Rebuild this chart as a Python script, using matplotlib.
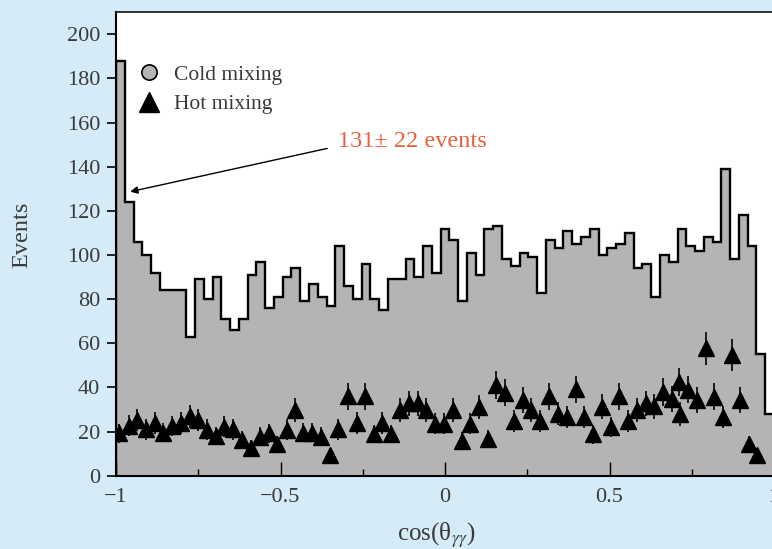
"""cos(theta_gg) distribution: cold-mixing histogram with hot-mixing points."""
import numpy as np
import matplotlib
matplotlib.use("Agg")
import matplotlib.pyplot as plt
from matplotlib.lines import Line2D
from matplotlib.ticker import MultipleLocator, FuncFormatter

# ---- data ------------------------------------------------------------------
N_BINS = 75
X_LO, X_HI = -1.0, 1.0

cold_counts = [188, 124, 106, 100, 92, 84, 84, 84, 63, 89, 80, 90, 71, 66, 71,
               91, 97, 76, 81, 90, 94, 79, 87, 81, 77, 104, 86, 80, 96, 80,
               75, 89, 89, 98, 90, 104, 92, 112, 107, 79, 101, 91, 112, 113, 98,
               95, 101, 99, 83, 107, 103, 111, 105, 108, 112, 100, 103, 105, 110, 94,
               96, 81, 100, 97, 112, 104, 102, 108, 106, 139, 98, 118, 104, 55, 28]

hot_x = [-0.990, -0.960, -0.935, -0.910, -0.881, -0.856, -0.829, -0.802, -0.775,
         -0.750, -0.724, -0.696, -0.671, -0.643, -0.616, -0.590, -0.562, -0.535,
         -0.510, -0.481, -0.456, -0.431, -0.403, -0.378, -0.350, -0.324,
         -0.296, -0.268, -0.243, -0.216, -0.191, -0.164, -0.137, -0.109, -0.083,
         -0.058, -0.030, -0.003, 0.023, 0.051, 0.076, 0.103, 0.130, 0.155, 0.182,
         0.209, 0.236, 0.262, 0.290, 0.316, 0.343,
         0.370, 0.397, 0.423, 0.451, 0.476, 0.504, 0.530, 0.557, 0.584, 0.610,
         0.636, 0.664, 0.689, 0.711, 0.714, 0.738, 0.765, 0.792, 0.818, 0.844,
         0.871, 0.898, 0.925, 0.949]
hot_y = [19.2, 22.7, 25.2, 21.0, 23.9, 19.5, 22.5, 23.9, 27.0, 25.4, 20.9, 18.0,
         22.2, 21.0, 16.2, 12.7, 17.7, 19.2, 14.4, 20.9, 29.6, 19.5, 19.5, 17.7,
         9.4, 21.0,
         36.0, 23.9, 36.0, 18.9, 23.9, 18.9, 29.6, 32.9, 32.9, 29.6, 23.6, 23.6,
         29.6, 15.7, 23.6, 31.1, 16.8, 41.0, 37.6, 24.8, 34.4, 29.8, 24.8, 36.0,
         28.1,
         26.5, 39.1, 26.5, 18.7, 31.3, 22.1, 36.0, 24.9, 29.6, 32.8, 31.4, 37.9,
         34.9, 42.5, 28.0, 39.0, 34.4, 57.7, 35.8, 26.5, 54.7, 34.3, 14.4, 9.4]
hot_err = [4.4, 4.8, 5.0, 4.6, 4.9, 4.4, 4.7, 4.9, 5.2, 5.0, 4.6, 4.2, 4.7, 4.6,
           4.0, 3.6, 4.2, 4.4, 3.8, 4.6, 5.4, 4.4, 4.4, 4.2, 3.1, 4.6,
           6.0, 4.9, 6.0, 4.3, 4.9, 4.3, 5.4, 5.7, 5.7, 5.4, 4.9, 4.9, 5.4, 4.0,
           4.9, 5.6, 4.1, 6.4, 6.1, 5.0, 5.9, 5.5, 5.0, 6.0, 5.3,
           5.1, 6.3, 5.1, 4.3, 5.6, 4.7, 6.0, 5.0, 5.4, 5.7, 5.6, 6.2, 5.9, 6.5,
           5.4, 6.2, 5.9, 7.6, 6.0, 5.1, 7.4, 5.9, 3.8, 3.1]

peak_label = "131\u00b1 22 events"
peak_tip = (-0.957, 128.7)
peak_text = (-0.325, 151.3)

# ---- style -----------------------------------------------------------------
BG = "#d5ebf8"
FILL = "#b4b4b4"
TXT = "#3a3a3a"
ORANGE = "#e8613f"

plt.rcParams["font.family"] = ["Liberation Serif", "DejaVu Serif"]
plt.rcParams["mathtext.fontset"] = "stix"
plt.rcParams["axes.unicode_minus"] = True


def main(outfile="out.png"):
    fig = plt.figure(figsize=(7.72, 5.49), dpi=100, facecolor=BG)
    ax = fig.add_axes([0.1503, 0.1335, 0.8523, 0.8441])
    ax.set_facecolor("white")

    edges = np.linspace(X_LO, X_HI, N_BINS + 1)
    ax.stairs(cold_counts, edges, baseline=0, fill=True, color=FILL, lw=0, zorder=1)
    ax.stairs(cold_counts, edges, baseline=0, fill=False, color="black", lw=1.7, zorder=2)

    ax.errorbar(hot_x, hot_y, yerr=hot_err, fmt="^", color="black", ms=12,
                elinewidth=1.2, capsize=0, zorder=3)

    ax.set_xlim(X_LO, X_HI)
    ax.set_ylim(0, 210)

    for side in ("left", "bottom"):
        ax.spines[side].set_linewidth(1.5)
    ax.spines["top"].set_linewidth(1.1)
    ax.spines["right"].set_visible(False)

    ax.xaxis.set_major_locator(MultipleLocator(0.5))
    ax.xaxis.set_minor_locator(MultipleLocator(0.25))
    ax.xaxis.set_major_formatter(FuncFormatter(lambda v, _: f"{v:g}".replace("-", "\u2212")))
    ax.yaxis.set_major_locator(MultipleLocator(20))
    ax.tick_params(axis="x", which="major", direction="in", length=10, width=1.0,
                   pad=9, labelsize=16, labelcolor=TXT, top=False)
    ax.tick_params(axis="x", which="minor", direction="in", length=5, width=1.0, top=False)
    ax.tick_params(axis="y", which="major", direction="out", length=6.5, width=1.2,
                   pad=5, labelsize=16, labelcolor=TXT, right=False)

    ax.set_ylabel("Events", fontsize=17.5, color=TXT)
    ax.yaxis.set_label_coords(-0.127, 0.52)
    ax.set_xlabel("cos(\u03b8$_{\\gamma\\gamma}$)", fontsize=18, color=TXT)
    ax.xaxis.set_label_coords(0.487, -0.097)

    handles = [
        Line2D([], [], ls="none", marker="o", ms=11, mfc=FILL, mec="black", mew=1.2),
        Line2D([], [], ls="none", marker="^", ms=15, mfc="black", mec="black"),
    ]
    ax.legend(handles, ["Cold mixing", "Hot mixing"], loc="upper left",
              bbox_to_anchor=(0.017, 0.905), frameon=False, fontsize=15.5,
              handlelength=1.2, handletextpad=0.55, labelspacing=0.42,
              borderaxespad=0.0, labelcolor=TXT)

    ax.annotate(peak_label, xy=peak_tip, xytext=peak_text, color=ORANGE,
                fontsize=17.5, va="center", ha="left",
                arrowprops=dict(arrowstyle="-|>", color="black", lw=1.0,
                                mutation_scale=11, shrinkA=6, shrinkB=0,
                                relpos=(0.0, 0.3)))

    fig.savefig(outfile, dpi=100, facecolor=BG)


if __name__ == "__main__":
    main()
